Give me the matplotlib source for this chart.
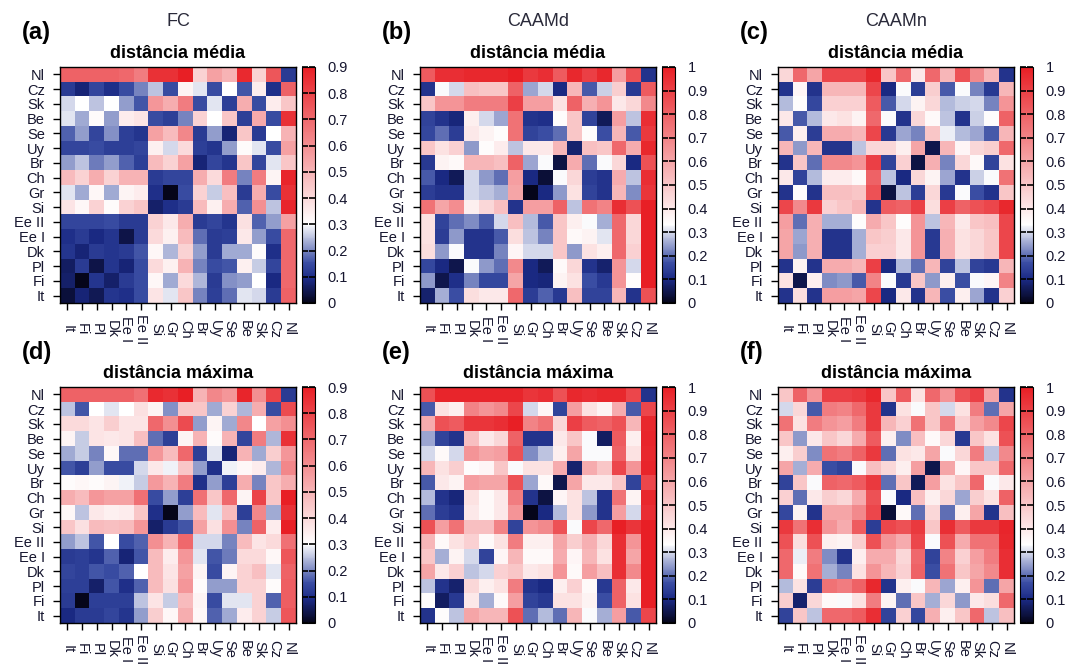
import matplotlib
matplotlib.use('Agg')
import matplotlib.pyplot as plt
import numpy as np
from matplotlib.colors import LinearSegmentedColormap

plt.rcParams['font.family'] = ['Liberation Sans', 'DejaVu Sans']

W, H = 1070, 667

# column order (left to right); rows are drawn in the reverse order (top = Nl)
countries = ['It', 'Fi', 'Pl', 'Dk', 'Ee I', 'Ee II', 'Si', 'Gr', 'Ch', 'Br',
             'Uy', 'Se', 'Be', 'Sk', 'Cz', 'Nl']
row_labels = countries[::-1]

# FC, average distance
fc_media = [
    [0.72, 0.72, 0.72, 0.72, 0.70, 0.65, 0.85, 0.85, 0.90, 0.42, 0.55, 0.50, 0.87, 0.42, 0.75, 0.12],
    [0.12, 0.08, 0.14, 0.10, 0.15, 0.20, 0.25, 0.15, 0.33, 0.28, 0.15, 0.30, 0.16, 0.35, 0.10, 0.72],
    [0.27, 0.30, 0.25, 0.30, 0.22, 0.16, 0.58, 0.52, 0.65, 0.15, 0.28, 0.13, 0.52, 0.15, 0.35, 0.45],
    [0.28, 0.23, 0.31, 0.22, 0.35, 0.37, 0.15, 0.13, 0.20, 0.42, 0.30, 0.45, 0.13, 0.53, 0.15, 0.85],
    [0.17, 0.22, 0.14, 0.21, 0.13, 0.11, 0.55, 0.48, 0.62, 0.12, 0.22, 0.08, 0.45, 0.12, 0.30, 0.50],
    [0.14, 0.14, 0.15, 0.13, 0.13, 0.14, 0.34, 0.27, 0.40, 0.13, 0.11, 0.22, 0.31, 0.28, 0.15, 0.55],
    [0.22, 0.25, 0.19, 0.22, 0.17, 0.13, 0.48, 0.42, 0.55, 0.08, 0.14, 0.11, 0.45, 0.14, 0.28, 0.45],
    [0.48, 0.42, 0.52, 0.42, 0.50, 0.50, 0.12, 0.14, 0.14, 0.52, 0.40, 0.65, 0.20, 0.65, 0.33, 0.88],
    [0.28, 0.23, 0.32, 0.23, 0.33, 0.35, 0.10, 0.00, 0.15, 0.42, 0.26, 0.47, 0.12, 0.52, 0.15, 0.85],
    [0.37, 0.32, 0.42, 0.31, 0.42, 0.45, 0.07, 0.10, 0.12, 0.48, 0.34, 0.52, 0.17, 0.60, 0.25, 0.88],
    [0.14, 0.14, 0.14, 0.15, 0.12, 0.12, 0.42, 0.36, 0.52, 0.12, 0.14, 0.11, 0.38, 0.17, 0.22, 0.55],
    [0.10, 0.12, 0.09, 0.11, 0.04, 0.12, 0.40, 0.34, 0.48, 0.18, 0.12, 0.13, 0.36, 0.22, 0.15, 0.70],
    [0.11, 0.08, 0.12, 0.11, 0.12, 0.16, 0.32, 0.24, 0.42, 0.22, 0.12, 0.23, 0.23, 0.31, 0.10, 0.70],
    [0.06, 0.12, 0.04, 0.11, 0.08, 0.15, 0.40, 0.34, 0.50, 0.20, 0.15, 0.16, 0.34, 0.26, 0.14, 0.70],
    [0.07, 0.00, 0.11, 0.07, 0.12, 0.15, 0.32, 0.23, 0.40, 0.24, 0.12, 0.21, 0.22, 0.30, 0.09, 0.70],
    [0.03, 0.08, 0.05, 0.11, 0.10, 0.15, 0.37, 0.28, 0.45, 0.20, 0.13, 0.18, 0.28, 0.27, 0.12, 0.72],
]

# CAAMd, average distance
caamd_media = [
    [0.82, 0.95, 0.95, 0.97, 0.97, 0.97, 1.00, 0.92, 0.95, 0.82, 0.97, 0.90, 0.97, 0.62, 0.85, 0.12],
    [0.12, 0.33, 0.30, 0.52, 0.50, 0.50, 0.80, 0.25, 0.30, 0.10, 0.55, 0.18, 0.29, 0.48, 0.13, 0.82],
    [0.50, 0.65, 0.65, 0.72, 0.72, 0.72, 0.90, 0.62, 0.62, 0.42, 0.80, 0.57, 0.65, 0.40, 0.45, 0.68],
    [0.15, 0.12, 0.09, 0.38, 0.30, 0.25, 0.75, 0.12, 0.11, 0.34, 0.50, 0.15, 0.06, 0.62, 0.28, 0.95],
    [0.16, 0.20, 0.14, 0.40, 0.37, 0.34, 0.75, 0.15, 0.17, 0.20, 0.50, 0.34, 0.17, 0.55, 0.18, 0.92],
    [0.50, 0.42, 0.47, 0.24, 0.34, 0.39, 0.28, 0.40, 0.40, 0.55, 0.08, 0.52, 0.50, 0.78, 0.58, 0.97],
    [0.13, 0.37, 0.35, 0.55, 0.55, 0.52, 0.80, 0.25, 0.33, 0.04, 0.58, 0.20, 0.33, 0.45, 0.10, 0.85],
    [0.18, 0.10, 0.06, 0.30, 0.24, 0.20, 0.62, 0.10, 0.03, 0.33, 0.45, 0.14, 0.12, 0.58, 0.28, 0.95],
    [0.14, 0.12, 0.12, 0.30, 0.28, 0.26, 0.60, 0.00, 0.10, 0.24, 0.42, 0.15, 0.12, 0.55, 0.23, 0.93],
    [0.75, 0.60, 0.67, 0.38, 0.45, 0.52, 0.12, 0.62, 0.62, 0.80, 0.28, 0.75, 0.70, 0.95, 0.85, 1.00],
    [0.42, 0.15, 0.20, 0.23, 0.18, 0.30, 0.52, 0.27, 0.18, 0.50, 0.38, 0.33, 0.26, 0.78, 0.45, 1.00],
    [0.42, 0.14, 0.24, 0.12, 0.12, 0.18, 0.43, 0.28, 0.22, 0.50, 0.35, 0.37, 0.31, 0.78, 0.45, 1.00],
    [0.43, 0.24, 0.33, 0.12, 0.12, 0.22, 0.36, 0.30, 0.30, 0.50, 0.24, 0.42, 0.38, 0.78, 0.47, 1.00],
    [0.16, 0.10, 0.05, 0.33, 0.24, 0.20, 0.68, 0.10, 0.06, 0.35, 0.45, 0.12, 0.08, 0.65, 0.30, 1.00],
    [0.24, 0.05, 0.11, 0.22, 0.16, 0.16, 0.60, 0.10, 0.09, 0.37, 0.42, 0.17, 0.13, 0.65, 0.34, 1.00],
    [0.08, 0.26, 0.17, 0.43, 0.40, 0.40, 0.78, 0.14, 0.19, 0.13, 0.52, 0.15, 0.15, 0.55, 0.12, 0.85],
]

# CAAMn, average distance
caamn_media = [
    [0.45, 0.78, 0.60, 0.88, 0.88, 0.88, 0.97, 0.50, 0.78, 0.40, 0.78, 0.55, 0.85, 0.68, 0.55, 0.12],
    [0.12, 0.36, 0.12, 0.55, 0.55, 0.55, 0.88, 0.10, 0.33, 0.14, 0.48, 0.18, 0.33, 0.22, 0.13, 0.55],
    [0.27, 0.34, 0.16, 0.47, 0.47, 0.47, 0.82, 0.18, 0.30, 0.37, 0.45, 0.27, 0.29, 0.30, 0.22, 0.65],
    [0.40, 0.18, 0.27, 0.40, 0.42, 0.37, 0.78, 0.33, 0.12, 0.45, 0.35, 0.28, 0.12, 0.29, 0.34, 0.80],
    [0.18, 0.38, 0.14, 0.58, 0.58, 0.55, 0.88, 0.13, 0.25, 0.22, 0.50, 0.32, 0.27, 0.25, 0.18, 0.55],
    [0.55, 0.24, 0.55, 0.12, 0.12, 0.28, 0.45, 0.45, 0.38, 0.60, 0.05, 0.55, 0.36, 0.45, 0.48, 0.78],
    [0.12, 0.50, 0.20, 0.68, 0.68, 0.65, 0.90, 0.15, 0.47, 0.04, 0.57, 0.22, 0.45, 0.35, 0.15, 0.42],
    [0.40, 0.15, 0.27, 0.39, 0.39, 0.35, 0.80, 0.28, 0.10, 0.45, 0.37, 0.25, 0.12, 0.29, 0.33, 0.75],
    [0.12, 0.34, 0.12, 0.52, 0.52, 0.50, 0.85, 0.04, 0.28, 0.14, 0.45, 0.13, 0.33, 0.17, 0.12, 0.50],
    [0.88, 0.68, 0.92, 0.47, 0.50, 0.55, 0.12, 0.82, 0.80, 0.90, 0.43, 0.90, 0.80, 0.85, 0.88, 0.97],
    [0.62, 0.20, 0.57, 0.26, 0.26, 0.34, 0.58, 0.50, 0.34, 0.65, 0.28, 0.55, 0.40, 0.50, 0.52, 0.88],
    [0.60, 0.25, 0.57, 0.12, 0.12, 0.26, 0.50, 0.48, 0.40, 0.65, 0.13, 0.57, 0.42, 0.45, 0.50, 0.88],
    [0.60, 0.24, 0.57, 0.12, 0.12, 0.26, 0.47, 0.47, 0.40, 0.65, 0.13, 0.57, 0.42, 0.45, 0.50, 0.88],
    [0.12, 0.37, 0.12, 0.58, 0.58, 0.55, 0.90, 0.10, 0.27, 0.20, 0.55, 0.15, 0.28, 0.15, 0.13, 0.55],
    [0.42, 0.05, 0.38, 0.23, 0.24, 0.18, 0.70, 0.33, 0.13, 0.50, 0.24, 0.38, 0.17, 0.33, 0.36, 0.70],
    [0.12, 0.43, 0.12, 0.62, 0.62, 0.60, 0.88, 0.10, 0.40, 0.12, 0.55, 0.17, 0.38, 0.25, 0.12, 0.47],
]

# FC, maximum distance
fc_maxima = [
    [0.72, 0.72, 0.72, 0.72, 0.72, 0.68, 0.87, 0.85, 0.90, 0.50, 0.62, 0.58, 0.88, 0.60, 0.80, 0.12],
    [0.25, 0.16, 0.30, 0.28, 0.30, 0.38, 0.33, 0.21, 0.45, 0.45, 0.23, 0.42, 0.24, 0.52, 0.15, 0.78],
    [0.40, 0.40, 0.37, 0.43, 0.37, 0.37, 0.70, 0.60, 0.78, 0.22, 0.33, 0.23, 0.62, 0.30, 0.55, 0.60],
    [0.33, 0.26, 0.37, 0.36, 0.37, 0.47, 0.18, 0.13, 0.33, 0.50, 0.31, 0.50, 0.14, 0.65, 0.24, 0.85],
    [0.23, 0.26, 0.20, 0.32, 0.18, 0.18, 0.58, 0.48, 0.70, 0.13, 0.28, 0.08, 0.50, 0.23, 0.43, 0.58],
    [0.16, 0.13, 0.22, 0.15, 0.15, 0.27, 0.36, 0.29, 0.45, 0.22, 0.10, 0.29, 0.32, 0.35, 0.24, 0.62],
    [0.31, 0.32, 0.31, 0.33, 0.29, 0.26, 0.57, 0.50, 0.65, 0.10, 0.22, 0.13, 0.52, 0.20, 0.45, 0.52],
    [0.52, 0.48, 0.58, 0.55, 0.55, 0.68, 0.15, 0.22, 0.13, 0.68, 0.45, 0.70, 0.33, 0.80, 0.45, 0.90],
    [0.32, 0.25, 0.36, 0.34, 0.35, 0.45, 0.10, 0.00, 0.22, 0.48, 0.28, 0.48, 0.13, 0.62, 0.23, 0.85],
    [0.45, 0.38, 0.48, 0.47, 0.48, 0.58, 0.07, 0.12, 0.16, 0.55, 0.38, 0.60, 0.20, 0.72, 0.35, 0.90],
    [0.22, 0.25, 0.16, 0.30, 0.15, 0.17, 0.60, 0.50, 0.70, 0.27, 0.27, 0.20, 0.48, 0.37, 0.40, 0.68],
    [0.12, 0.13, 0.11, 0.17, 0.08, 0.16, 0.48, 0.35, 0.58, 0.28, 0.16, 0.19, 0.40, 0.40, 0.32, 0.75],
    [0.14, 0.13, 0.16, 0.15, 0.17, 0.30, 0.48, 0.37, 0.55, 0.33, 0.15, 0.33, 0.42, 0.47, 0.28, 0.72],
    [0.13, 0.13, 0.07, 0.16, 0.10, 0.17, 0.48, 0.38, 0.58, 0.31, 0.22, 0.22, 0.42, 0.42, 0.31, 0.73],
    [0.12, 0.00, 0.13, 0.13, 0.13, 0.25, 0.37, 0.26, 0.48, 0.33, 0.15, 0.28, 0.28, 0.42, 0.17, 0.73],
    [0.09, 0.12, 0.12, 0.14, 0.11, 0.22, 0.43, 0.32, 0.52, 0.32, 0.17, 0.23, 0.35, 0.42, 0.26, 0.75],
]

# CAAMd, maximum distance
caamd_maxima = [
    [0.85, 0.98, 0.98, 0.98, 0.98, 0.98, 0.98, 0.93, 0.95, 0.85, 0.97, 0.95, 0.97, 0.97, 0.88, 0.12],
    [0.18, 0.42, 0.38, 0.70, 0.65, 0.68, 0.88, 0.30, 0.36, 0.15, 0.62, 0.42, 0.37, 0.58, 0.18, 0.88],
    [0.58, 0.85, 0.82, 0.93, 0.93, 0.95, 1.00, 0.70, 0.75, 0.45, 0.90, 0.82, 0.80, 0.85, 0.55, 0.97],
    [0.25, 0.15, 0.12, 0.52, 0.40, 0.45, 0.80, 0.12, 0.12, 0.40, 0.50, 0.33, 0.07, 0.82, 0.38, 0.98],
    [0.30, 0.35, 0.30, 0.65, 0.60, 0.62, 0.85, 0.23, 0.28, 0.38, 0.60, 0.33, 0.33, 0.80, 0.42, 0.97],
    [0.55, 0.42, 0.48, 0.34, 0.36, 0.50, 0.33, 0.42, 0.42, 0.58, 0.08, 0.58, 0.50, 0.88, 0.65, 0.98],
    [0.18, 0.40, 0.37, 0.62, 0.60, 0.60, 0.85, 0.25, 0.35, 0.05, 0.60, 0.40, 0.40, 0.50, 0.15, 0.88],
    [0.27, 0.12, 0.09, 0.42, 0.35, 0.40, 0.72, 0.12, 0.04, 0.36, 0.42, 0.28, 0.12, 0.75, 0.37, 0.97],
    [0.20, 0.14, 0.12, 0.40, 0.35, 0.40, 0.65, 0.00, 0.10, 0.27, 0.42, 0.24, 0.12, 0.62, 0.30, 0.95],
    [0.85, 0.62, 0.75, 0.52, 0.52, 0.70, 0.15, 0.65, 0.68, 0.85, 0.33, 0.88, 0.78, 1.00, 0.93, 1.00],
    [0.55, 0.35, 0.42, 0.47, 0.35, 0.42, 0.72, 0.38, 0.38, 0.60, 0.48, 0.57, 0.45, 0.95, 0.65, 1.00],
    [0.50, 0.26, 0.37, 0.30, 0.15, 0.36, 0.55, 0.35, 0.35, 0.58, 0.36, 0.55, 0.42, 0.95, 0.60, 1.00],
    [0.60, 0.40, 0.47, 0.28, 0.30, 0.47, 0.50, 0.40, 0.42, 0.65, 0.35, 0.62, 0.52, 0.95, 0.68, 1.00],
    [0.28, 0.12, 0.08, 0.45, 0.38, 0.42, 0.72, 0.12, 0.10, 0.38, 0.47, 0.35, 0.13, 0.80, 0.40, 1.00],
    [0.34, 0.07, 0.13, 0.40, 0.26, 0.35, 0.62, 0.15, 0.13, 0.42, 0.42, 0.37, 0.17, 0.80, 0.42, 1.00],
    [0.12, 0.34, 0.28, 0.60, 0.55, 0.55, 0.85, 0.20, 0.27, 0.20, 0.55, 0.33, 0.26, 0.62, 0.18, 0.88],
]

# CAAMn, maximum distance
caamn_maxima = [
    [0.50, 0.80, 0.65, 0.90, 0.90, 0.92, 0.97, 0.50, 0.82, 0.42, 0.78, 0.65, 0.85, 0.90, 0.60, 0.12],
    [0.30, 0.45, 0.18, 0.72, 0.70, 0.78, 0.92, 0.12, 0.42, 0.33, 0.50, 0.30, 0.42, 0.72, 0.20, 0.60],
    [0.75, 0.42, 0.72, 0.65, 0.62, 0.72, 0.92, 0.55, 0.47, 0.75, 0.50, 0.72, 0.47, 0.62, 0.68, 0.88],
    [0.50, 0.24, 0.40, 0.50, 0.45, 0.58, 0.82, 0.38, 0.23, 0.52, 0.35, 0.45, 0.13, 0.50, 0.42, 0.85],
    [0.38, 0.48, 0.23, 0.75, 0.72, 0.80, 0.92, 0.20, 0.42, 0.40, 0.60, 0.33, 0.45, 0.72, 0.28, 0.68],
    [0.60, 0.26, 0.58, 0.17, 0.15, 0.33, 0.52, 0.45, 0.38, 0.62, 0.05, 0.60, 0.36, 0.50, 0.50, 0.78],
    [0.15, 0.50, 0.33, 0.80, 0.78, 0.82, 0.92, 0.20, 0.50, 0.06, 0.62, 0.42, 0.50, 0.78, 0.33, 0.40],
    [0.47, 0.20, 0.40, 0.48, 0.45, 0.58, 0.85, 0.33, 0.10, 0.52, 0.38, 0.45, 0.25, 0.48, 0.42, 0.80],
    [0.16, 0.37, 0.12, 0.60, 0.60, 0.68, 0.88, 0.03, 0.35, 0.20, 0.45, 0.20, 0.38, 0.60, 0.12, 0.52],
    [0.92, 0.75, 0.95, 0.65, 0.58, 0.82, 0.14, 0.88, 0.85, 0.92, 0.50, 0.95, 0.82, 0.92, 0.92, 0.98],
    [0.85, 0.43, 0.85, 0.38, 0.37, 0.48, 0.85, 0.65, 0.58, 0.88, 0.33, 0.85, 0.58, 0.75, 0.75, 0.97],
    [0.78, 0.32, 0.72, 0.23, 0.12, 0.38, 0.58, 0.58, 0.45, 0.78, 0.15, 0.70, 0.47, 0.62, 0.72, 0.95],
    [0.78, 0.35, 0.75, 0.26, 0.22, 0.42, 0.65, 0.55, 0.47, 0.80, 0.17, 0.75, 0.50, 0.60, 0.68, 0.95],
    [0.27, 0.42, 0.14, 0.75, 0.72, 0.80, 0.97, 0.12, 0.38, 0.33, 0.55, 0.25, 0.38, 0.65, 0.20, 0.60],
    [0.48, 0.08, 0.45, 0.35, 0.33, 0.42, 0.72, 0.37, 0.20, 0.50, 0.26, 0.45, 0.24, 0.40, 0.43, 0.78],
    [0.15, 0.50, 0.28, 0.78, 0.78, 0.82, 0.95, 0.15, 0.47, 0.16, 0.57, 0.38, 0.50, 0.78, 0.28, 0.52],
]

panel_letters = ['(a)', '(b)', '(c)', '(d)', '(e)', '(f)']
model_names = ['FC', 'CAAMd', 'CAAMn']
subtitles = ['distância média', 'distância máxima']
scale_max = [0.9, 1.0, 1.0]

cmap = LinearSegmentedColormap.from_list(
    'dist', [(0.0, '#05051a'), (0.1, '#1b2a85'), (0.17, '#3b4ea4'),
             (1 / 3, '#ffffff'), (1.0, '#e81f25')], N=256)

label_color = '#15152e'

fig = plt.figure(figsize=(W / 100, H / 100), dpi=100)


def px_axes(x, y, w, h):
    return fig.add_axes([x / W, 1 - (y + h) / H, w / W, h / H])


col_x = [60, 420, 778]
row_y = [67, 387]
size = 236

matrices = [[fc_media, caamd_media, caamn_media],
            [fc_maxima, caamd_maxima, caamn_maxima]]

for r in range(2):
    for c in range(3):
        x0, y0 = col_x[c], row_y[r]
        vmax = scale_max[c]
        ax = px_axes(x0, y0, size, size)
        im = ax.imshow(np.array(matrices[r][c]), cmap=cmap, vmin=0, vmax=vmax,
                       aspect='auto', interpolation='nearest')
        ax.set_xticks(range(16))
        ax.set_xticklabels(countries)
        ax.set_yticks(range(16))
        ax.set_yticklabels(row_labels)
        ax.tick_params(axis='both', direction='out', length=5, width=1,
                       labelsize=10.5, labelcolor=label_color)
        ax.tick_params(axis='y', pad=6)
        ax.tick_params(axis='x', pad=14)
        for lab in ax.get_xticklabels():
            lab.set_rotation(270)
            lab.set_va('center')
            lab.set_ha('center')
        for sp in ax.spines.values():
            sp.set_linewidth(1)

        # colour key
        cax = px_axes(x0 + size + 6, y0, 13, size)
        ticks = np.round(np.arange(0, vmax + 0.001, 0.1), 1)
        cb = fig.colorbar(im, cax=cax, ticks=ticks)
        cb.ax.set_yticklabels([f'{t:g}' for t in ticks])
        cb.ax.minorticks_off()
        cb.outline.set_linewidth(0.8)
        cb.ax.tick_params(direction='in', length=4, width=1.2, left=True,
                          right=True, labelsize=10.5, pad=9,
                          labelcolor=label_color)

        cx = x0 + size / 2
        if r == 0:
            fig.text(cx / W, 1 - 21 / H, model_names[c], ha='center', va='center',
                     fontsize=13, color='#2a2a3a')
        fig.text(cx / W, 1 - (y0 - 14) / H, subtitles[r], ha='center', va='center',
                 fontsize=13, fontweight='bold', color='black')
        fig.text((x0 - 38) / W, 1 - (y0 - 35) / H, panel_letters[r * 3 + c],
                 ha='left', va='center', fontsize=17, fontweight='bold')

fig.savefig('out.png', dpi=100)
